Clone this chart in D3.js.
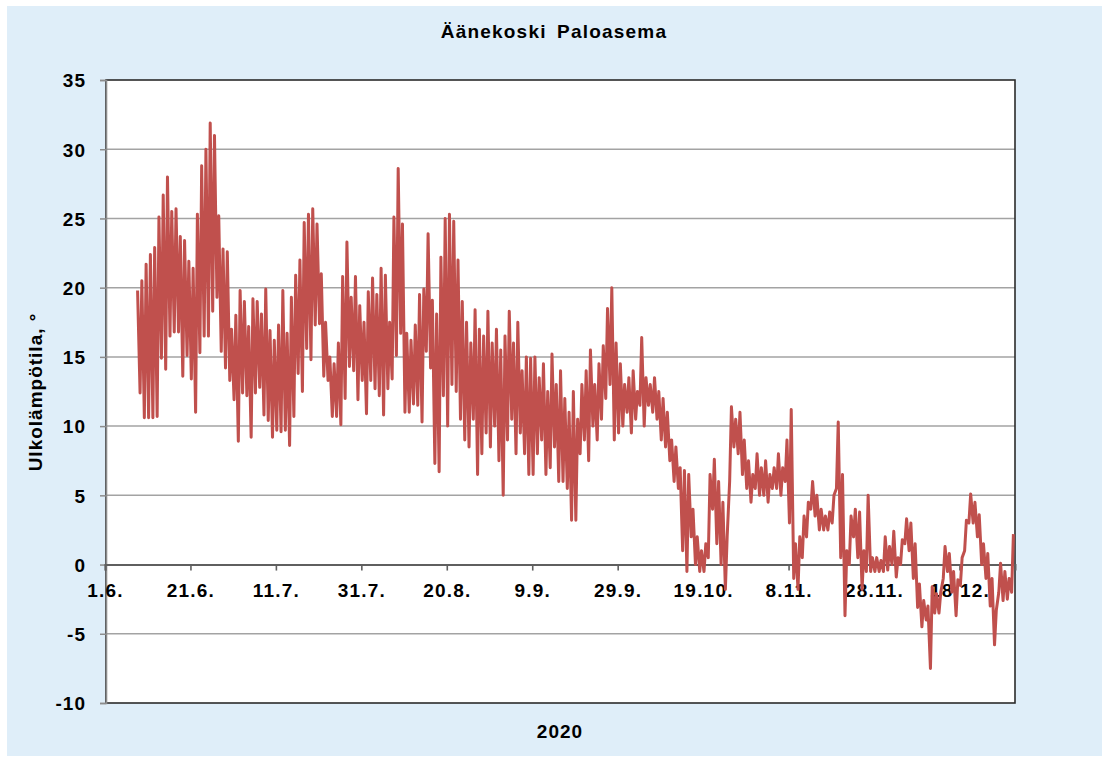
<!DOCTYPE html>
<html><head><meta charset="utf-8">
<style>
body { margin: 0; background: #fff; }
text { font-family: "Liberation Sans", Arial, sans-serif; font-weight: bold; fill: #000; }
</style>
</head><body>
<svg width="1102" height="758"></svg>
<script src="https://cdn.jsdelivr.net/npm/d3@7"></script>
<script>

var title = "Äänekoski Paloasema",
    yTitle = "Ulkolämpötila, °",
    xTitle = "2020";

// readings start 8.6.2020, one min and one max per day
var tmin = [
  null, 12.4, 10.6, 10.6, 10.6, 10.7, 14.9, 14.1, 16.5, 16.8, // 8.6.-17.6.
  16.8, 13.6, 15.1, 13.4, 11.0, 15.3, 16.5, 16.5, 18.3, 19.3,
  15.4, 14.2, 13.3, 11.9, 8.9, 12.4, 12.2, 9.2, 12.4, 12.8,
  10.8, 10.4, 9.2, 9.7, 9.6, 9.7, 8.6, 10.7, 13.8, 12.5,
  15.6, 14.8, 17.3, 17.4, 13.6, 13.3, 10.7, 10.7, 10.1, 12.0,
  14.3, 14.0, 11.9, 13.3, 10.9, 13.3, 12.7, 12.2, 10.8, 12.7,
  13.4, 15.1, 16.7, 11.0, 11.0, 11.6, 11.5, 10.3, 15.4, 14.2,
  7.3, 6.7, 12.2, 10.0, 13.0, 12.5, 10.5, 9.0, 8.5, 10.5,
  6.5, 8.0, 9.5, 8.5, 10.0, 7.5, 5.0, 9.0, 10.5, 8.0,
  9.5, 8.0, 6.5, 6.5, 8.0, 9.0, 6.5, 7.0, 8.5, 6.0,
  6.0, 5.5, 3.2, 3.2, 8.0, 9.0, 7.5, 10.0, 9.0, 10.5,
  12.0, 13.0, 9.0, 9.5, 10.0, 11.0, 9.5, 10.5, 11.5, 10.0,
  11.5, 11.0, 10.5, 9.0, 8.5, 7.5, 6.0, 5.5, 1.0, -0.5,
  2.0, 0.0, -0.5, -0.5, 0.5, 4.0, 1.5, 0.0, -1.8, 6.0,
  8.5, 8.0, 6.5, 5.5, 4.5, 5.5, 5.0, 5.0, 4.5, 5.5,
  5.5, 5.0, 6.0, 3.0, -1.0, -1.8, 0.5, 2.0, 4.0, 3.5,
  2.5, 2.5, 2.5, 3.0, 5.5, 0.5, -3.7, 0.0, 2.0, 0.5,
  -1.8, -0.5, -0.5, -0.5, -0.5, -0.5, -0.4, 0.0, -0.9, 0.0,
  1.5, 1.0, -1.0, -3.1, -4.5, -4.0, -7.5, -3.5, -3.5, -1.0,
  -0.5, -2.0, -3.7, -1.5, 1.0, 3.0, 3.0, 2.0, 0.0, -1.0,
  -3.0, -5.8, -2.0, -2.6, -2.5, -2.0
];

var tmax = [
  19.8, 20.5, 21.7, 22.4, 22.9, 25.1, 26.7, 28.0, 25.5, 25.7,
  23.7, 23.4, 21.9, 21.4, 25.3, 28.8, 30.0, 31.9, 31.0, 25.2,
  22.8, 22.6, 17.0, 18.0, 19.8, 19.0, 17.2, 19.2, 19.0, 18.1,
  19.9, 16.9, 16.2, 17.3, 19.8, 16.7, 19.3, 20.9, 22.0, 24.7,
  25.3, 25.7, 24.6, 21.0, 17.5, 15.0, 14.5, 16.0, 20.8, 23.3,
  19.3, 20.8, 18.7, 17.5, 19.7, 20.7, 19.5, 21.4, 20.9, 17.5,
  25.1, 28.6, 24.6, 16.7, 16.2, 17.3, 19.5, 19.9, 23.9, 19.1,
  18.1, 22.2, 25.0, 25.3, 24.8, 22.0, 19.0, 17.5, 16.0, 18.4,
  17.0, 16.5, 18.3, 16.0, 17.0, 15.5, 16.5, 18.3, 16.0, 17.5,
  14.0, 15.0, 14.9, 15.0, 13.5, 14.5, 12.5, 15.2, 13.0, 14.0,
  12.0, 11.0, 12.5, 10.5, 13.0, 14.0, 15.5, 13.0, 14.5, 15.8,
  18.5, 20.0, 16.0, 14.5, 13.0, 13.5, 14.0, 12.5, 16.4, 13.5,
  13.0, 13.5, 12.5, 12.0, 11.0, 9.0, 8.5, 7.0, 6.8, 6.5,
  4.0, 2.0, 1.0, 1.5, 6.5, 7.6, 6.0, 4.5, 2.0, 11.4,
  10.5, 11.0, 9.0, 7.5, 6.5, 8.0, 7.0, 7.5, 6.5, 7.0,
  8.0, 7.0, 9.0, 11.2, 1.5, 2.0, 3.5, 4.5, 6.0, 5.0,
  4.0, 3.5, 3.8, 5.0, 10.3, 6.5, 1.0, 3.5, 4.0, 3.8,
  1.0, 5.0, 0.5, 0.5, 0.3, 2.0, 1.3, 2.4, 0.5, 1.8,
  3.3, 3.0, 1.5, -1.4, -2.6, -3.0, -1.6, -2.1, -2.0, 1.3,
  0.8, -0.5, -1.1, 0.5, 3.2, 5.1, 4.5, 3.6, 1.5, 0.8,
  -1.0, -3.3, 0.1, -0.5, -1.0, 2.2
];

var yTicks = d3.range(-10, 36, 5);

var svg = d3.select("svg"),
    width = +svg.attr("width"),
    height = +svg.attr("height");

var plotL = 106, plotR = 1015, plotT = 80, plotB = 703;

var x = d3.scaleTime()
    .domain([new Date(2020, 5, 1), new Date(2020, 11, 31)])
    .range([105, plotR]);

var y = d3.scaleLinear()
    .domain([-10, 35])
    .range([plotB, plotT]);

// min early morning, max in the afternoon
var points = [];
tmin.forEach(function(v, i) {
  if (v != null) points.push({ t: new Date(2020, 5, 8 + i, 5), v: v });
  if (tmax[i] != null) points.push({ t: new Date(2020, 5, 8 + i, 15), v: tmax[i] });
});

svg.append("rect")
    .attr("x", 7).attr("y", 6)
    .attr("width", width - 7).attr("height", height - 8)
    .attr("fill", "#dfeef9");

svg.append("rect")
    .attr("x", plotL).attr("y", plotT)
    .attr("width", plotR - plotL).attr("height", plotB - plotT)
    .attr("fill", "#fff");

// grid
svg.append("g")
  .selectAll("line")
  .data(yTicks.filter(function(d) { return d != 0 && d != -10 && d != 35; }))
  .enter().append("line")
    .attr("x1", plotL).attr("x2", plotR)
    .attr("y1", function(d) { return y(d); })
    .attr("y2", function(d) { return y(d); })
    .attr("stroke", "#a3a3a3")
    .attr("stroke-width", 1.5);

// frame
svg.append("rect")
    .attr("x", plotL).attr("y", plotT)
    .attr("width", plotR - plotL).attr("height", plotB - plotT)
    .attr("fill", "none")
    .attr("stroke", "#2b2b2b")
    .attr("stroke-width", 1.6);

// y axis
var yAxis = svg.append("g")
    .attr("transform", "translate(" + plotL + ",0)")
    .call(d3.axisLeft(y).tickValues(yTicks)
        .tickFormat(function(d) { return String(d); })
        .tickSize(6).tickPadding(14));
yAxis.select(".domain").attr("stroke", "#8c8c8c").attr("stroke-width", 1.6);
yAxis.selectAll(".tick line").attr("stroke", "#8c8c8c").attr("stroke-width", 1.5);
yAxis.selectAll("text")
    .attr("fill", "#000")
    .style("font-size", "19px")
    .style("letter-spacing", "1px")
    .attr("dy", "0.36em");

// x axis on the zero line
var xAxis = svg.append("g")
    .attr("transform", "translate(0," + y(0) + ")")
    .call(d3.axisBottom(x)
        .tickValues(d3.timeDay.range(new Date(2020, 5, 1), new Date(2020, 11, 31), 20))
        .tickFormat(d3.timeFormat("%-d.%-m."))
        .tickSize(6).tickPadding(13));
xAxis.select(".domain").attr("stroke", "#5f5f5f").attr("stroke-width", 2);
xAxis.selectAll(".tick line").attr("stroke", "#5f5f5f").attr("stroke-width", 1.6);
xAxis.selectAll("text")
    .attr("fill", "#000")
    .style("font-size", "19px")
    .style("letter-spacing", "1.2px");

var line = d3.line()
    .x(function(d) { return x(d.t); })
    .y(function(d) { return y(d.v); });

svg.append("path")
    .datum(points)
    .attr("fill", "none")
    .attr("stroke", "#c0504d")
    .attr("stroke-width", 3)
    .attr("stroke-linejoin", "round")
    .attr("d", line);

svg.append("text")
    .attr("x", 554).attr("y", 38)
    .attr("text-anchor", "middle")
    .style("font-size", "19px")
    .style("letter-spacing", "1.2px")
    .style("word-spacing", "4px")
    .text(title);

svg.append("text")
    .attr("transform", "translate(42,392) rotate(-90)")
    .attr("text-anchor", "middle")
    .style("font-size", "19px")
    .style("letter-spacing", "1px")
    .text(yTitle);

svg.append("text")
    .attr("x", 560).attr("y", 738)
    .attr("text-anchor", "middle")
    .style("font-size", "19px")
    .style("letter-spacing", "1px")
    .text(xTitle);

</script>
</body></html>
